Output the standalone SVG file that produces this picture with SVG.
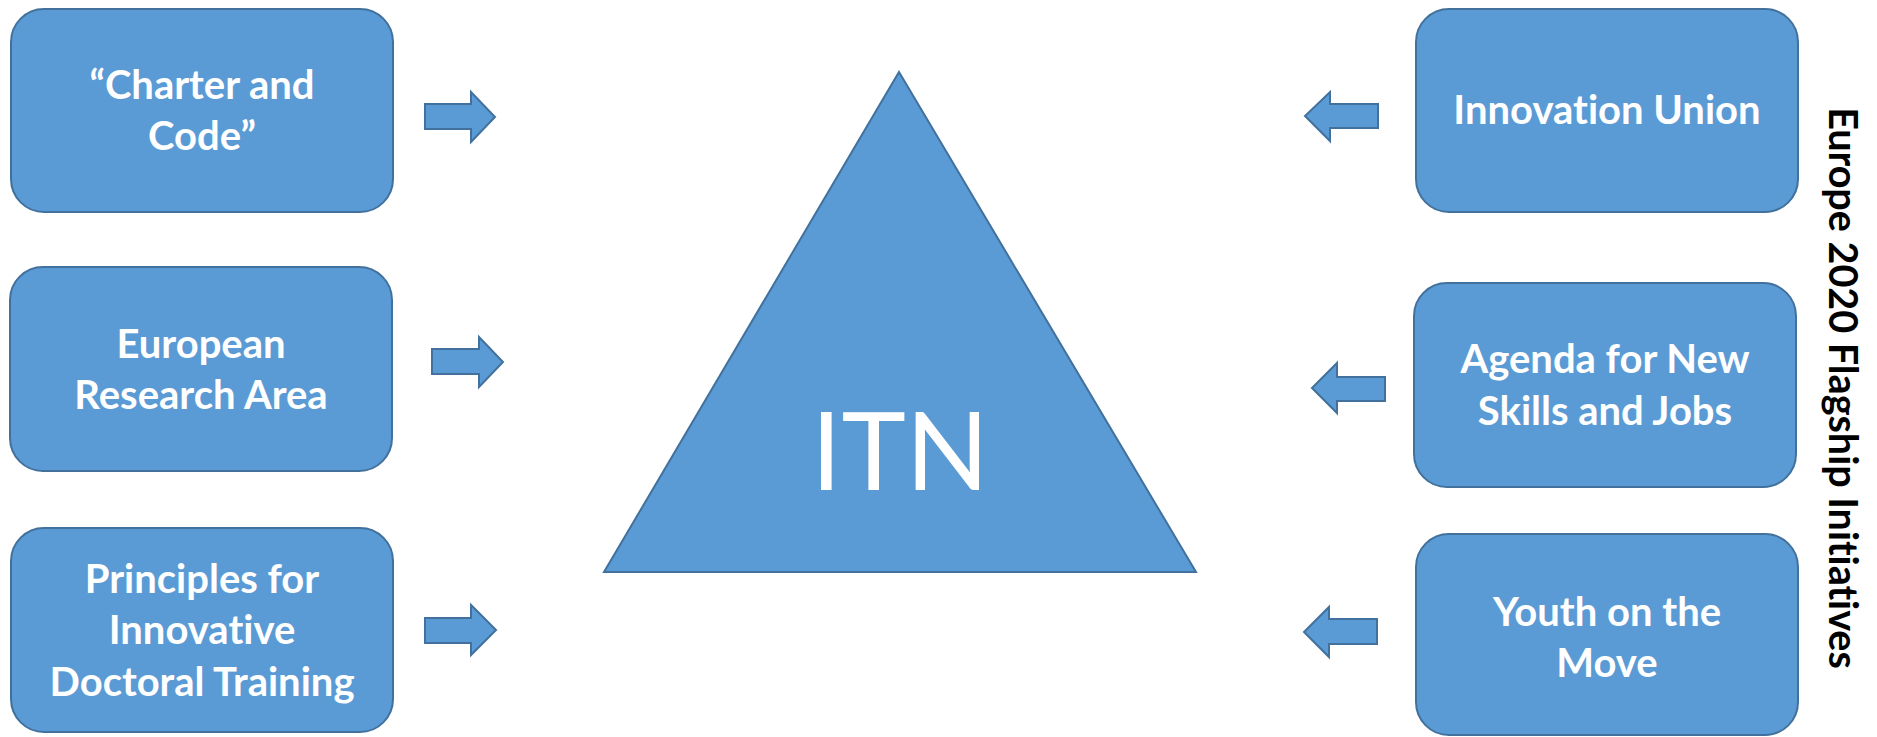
<svg xmlns="http://www.w3.org/2000/svg" width="1877" height="737" viewBox="0 0 1877 737">
<style>
.box{fill:#5B9BD5;stroke:#41719C;stroke-width:2}
.arr{fill:#5B9BD5;stroke:#41719C;stroke-width:2;stroke-linejoin:miter}
text{font-family:Lato,"Open Sans",sans-serif;font-variant-ligatures:none;font-feature-settings:"liga" 0,"dlig" 0}
.t{font-weight:bold;font-size:40px;fill:#fff;text-anchor:middle}
.itn{font-size:109px;fill:#fff;text-anchor:middle}
.side{font-weight:bold;font-size:39.5px;fill:#000;text-anchor:middle}
</style>
<rect width="1877" height="737" fill="#fff"/>
<g id="itn">
<polygon class="box" points="899,72 1196,572 604,572"/>
<text class="itn" x="900" y="490">ITN</text>
</g>
<g id="charter">
<rect class="box" x="11" y="9" width="382" height="203" rx="33"/>
<text class="t" x="202" y="99">“Charter and</text>
<text class="t" x="202" y="150">Code”</text>
</g>
<g id="era">
<rect class="box" x="10" y="267" width="382" height="204" rx="33"/>
<text class="t" x="201" y="358">European</text>
<text class="t" x="201" y="409">Research Area</text>
</g>
<g id="principles">
<rect class="box" x="11" y="528" width="382" height="204" rx="33"/>
<text class="t" x="202" y="593">Principles for</text>
<text class="t" x="202" y="644">Innovative</text>
<text class="t" x="202" y="696">Doctoral Training</text>
</g>
<g id="innovation">
<rect class="box" x="1416" y="9" width="382" height="203" rx="33"/>
<text class="t" x="1607" y="124">Innovation Union</text>
</g>
<g id="agenda">
<rect class="box" x="1414" y="283" width="382" height="204" rx="33"/>
<text class="t" x="1605" y="373">Agenda for New</text>
<text class="t" x="1605" y="425">Skills and Jobs</text>
</g>
<g id="youth">
<rect class="box" x="1416" y="534" width="382" height="201" rx="33"/>
<text class="t" x="1607" y="626">Youth on the</text>
<text class="t" x="1607" y="677">Move</text>
</g>
<g id="label">
<text class="side" transform="translate(1829,388) rotate(90)" x="0" y="0">Europe 2020 Flagship Initiatives</text>
</g>
<g id="connectors">
<polygon class="arr" points="425,104 471,104 471,92 495,117 471,142 471,129 425,129"/>
<polygon class="arr" points="432,349 479,349 479,337 503,362 479,387 479,374 432,374"/>
<polygon class="arr" points="425,618 471,618 471,605 496,630 471,655 471,643 425,643"/>
<polygon class="arr" points="1378,104 1330,104 1330,92 1305,116 1330,141 1330,128 1378,128"/>
<polygon class="arr" points="1385,377 1337,377 1337,363 1312,388 1337,413 1337,401 1385,401"/>
<polygon class="arr" points="1377,619 1329,619 1329,607 1304,632 1329,657 1329,644 1377,644"/>
</g>
</svg>
